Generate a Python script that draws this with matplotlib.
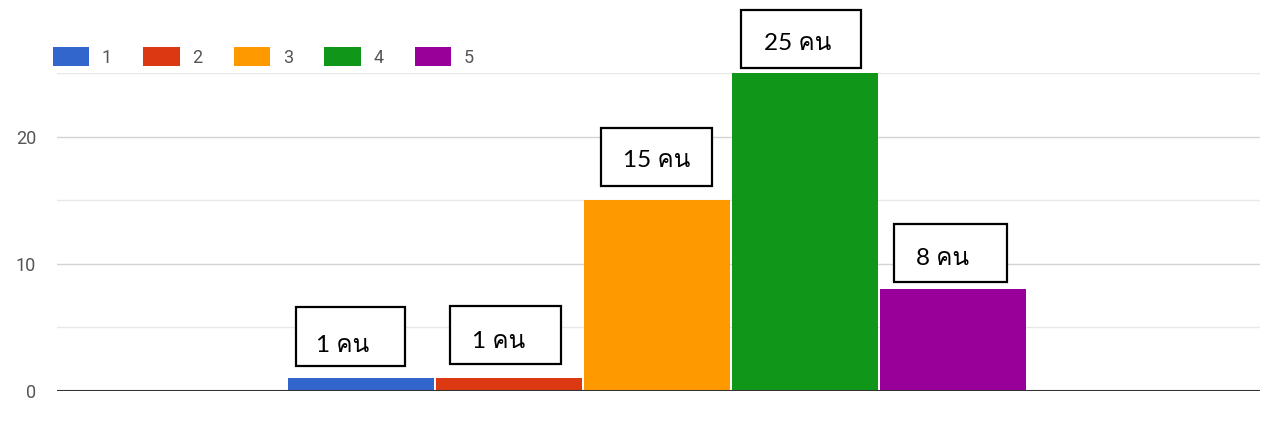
import matplotlib
matplotlib.use("Agg")
import matplotlib.pyplot as plt
from matplotlib import font_manager
from matplotlib.ft2font import FT2Font
from matplotlib.patches import Rectangle

categories = ["1", "2", "3", "4", "5"]
counts = [1, 1, 15, 25, 8]
labels = ["1 คน", "1 คน", "15 คน", "25 คน", "8 คน"]
colors = ["#3366cc", "#dc3912", "#ff9900", "#109618", "#990099"]

# hand-drawn callout boxes: (left, right) relative to bar centre, (bottom, top) in data units
BOX_X = [(-0.44, 0.30), (-0.40, 0.35), (-0.38, 0.37), (-0.43, 0.38), (-0.40, 0.36)]
BOX_Y = [(1.97, 6.6), (2.12, 6.68), (16.1, 20.68), (25.4, 29.95), (8.57, 13.1)]
TXT = [(-0.30, 3.6), (-0.25, 3.9), (-0.23, 18.1), (-0.28, 27.3), (-0.25, 10.4)]


def thai_family():
    for f in font_manager.fontManager.ttflist:
        try:
            if FT2Font(f.fname).get_char_index(ord("ค")):
                return f.name
        except Exception:
            pass
    return "DejaVu Sans"


THAI = thai_family()
NARROW = ["Liberation Sans Narrow", "Roboto", "DejaVu Sans"]

fig = plt.figure(figsize=(12.75, 4.38), dpi=100)
ax = fig.add_axes([57 / 1275, 1 - 391 / 438, 1203 / 1275, 318 / 438])

for i, (v, c, cat) in enumerate(zip(counts, colors, categories)):
    ax.bar(i, v, width=0.985, color=c, label=cat, zorder=3)

ax.set_xlim(-2.05, 6.07)
ax.set_ylim(0, 25)

for y in [5, 15, 25]:
    ax.axhline(y, color="#e8e8e8", lw=1, zorder=1)
for y in [10, 20]:
    ax.axhline(y, color="#d4d4d4", lw=1, zorder=1)
ax.axhline(0, color="#333333", lw=1.5, zorder=4)

ax.set_yticks([0, 10, 20])
ax.set_yticklabels(["0", "10", "20"], color="#555555", fontsize=13, family=NARROW)
ax.tick_params(axis="y", length=0, pad=15)
ax.set_xticks([])
for s in ax.spines.values():
    s.set_visible(False)

for i, lab in enumerate(labels):
    x0, x1 = BOX_X[i]
    y0, y1 = BOX_Y[i]
    ax.add_patch(Rectangle((i + x0, y0), x1 - x0, y1 - y0, fill=True, facecolor="white",
                           edgecolor="black", lw=1.6, zorder=5, clip_on=False))
    tx, ty = TXT[i]
    ax.text(i + tx, ty, lab, ha="left", va="center", fontsize=17.5, color="black",
            family=["Lato", THAI, "DejaVu Sans"], zorder=6, clip_on=False)

ax.legend(loc="center left", bbox_to_anchor=(53 / 1275, 1 - 57 / 438),
          bbox_transform=fig.transFigure, ncol=5, frameon=False,
          prop={"family": NARROW, "size": 13}, labelcolor="#555555",
          handlelength=2.0, handleheight=1.2, handletextpad=0.7,
          columnspacing=1.75, borderpad=0, borderaxespad=0)

fig.savefig("out.png", dpi=100)
